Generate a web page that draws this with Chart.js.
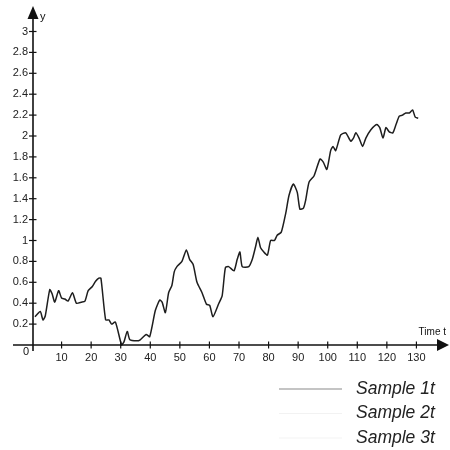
<!DOCTYPE html>
<html>
<head>
<meta charset="utf-8">
<script src="https://cdn.jsdelivr.net/npm/chart.js@4.4.1/dist/chart.umd.min.js"></script>
<style>
  html, body { margin: 0; padding: 0; background: #ffffff; }
  canvas { display: block; background: #ffffff; }
</style>
</head>
<body>
<canvas id="c" width="450" height="450"></canvas>
<script>
// ---- data ----
const times = [1, 2.8, 3.7, 4.5, 6, 6.8, 7.7, 9, 10, 11.1, 12.2, 13.7, 15, 16.7, 17.9, 19, 20.4, 21.5, 22.6, 23.3,
  24.9, 26, 26.9, 28.2, 30.3, 31.1, 32.2, 33.1, 35.4, 36.6, 38.6, 39.8, 41.7, 43.2, 44, 45.1, 46.2, 47.3, 48.1, 49,
  50.7, 52.2, 53.3, 54.5, 55.8, 57.5, 59, 60.1, 61.2, 63.2, 64.3, 65.4, 66.5, 68.3, 69.4, 70.3, 71.1, 73.3, 74.5, 75.6,
  76.4, 77.3, 78.4, 79.6, 80.7, 82, 82.9, 84.3, 85.8, 86.9, 88.4, 89.7, 90.6, 91.8, 92.5, 93.7, 95.4, 97.4, 98.5, 99.7,
  101, 101.8, 102.7, 104.4, 106.1, 107.8, 108.7, 109.5, 110.6, 111.8, 112.9, 114.6, 116.6, 117.6, 118.7, 119.7, 120.8, 122, 123.1, 124.2,
  125.3, 126.4, 127.6, 128.7, 129.6, 130.6];
const sample1 = [0.27, 0.32, 0.24, 0.28, 0.53, 0.49, 0.41, 0.52, 0.45, 0.44, 0.42, 0.50, 0.40, 0.41, 0.42, 0.52, 0.56, 0.61, 0.64, 0.64,
  0.24, 0.24, 0.20, 0.22, 0.00, 0.03, 0.13, 0.05, 0.04, 0.05, 0.10, 0.08, 0.33, 0.43, 0.41, 0.31, 0.50, 0.57, 0.70, 0.75,
  0.80, 0.91, 0.82, 0.77, 0.60, 0.50, 0.39, 0.38, 0.27, 0.40, 0.47, 0.74, 0.75, 0.71, 0.82, 0.89, 0.75, 0.75, 0.82, 0.94,
  1.03, 0.93, 0.89, 0.86, 1.00, 1.00, 1.05, 1.08, 1.26, 1.43, 1.54, 1.46, 1.30, 1.31, 1.38, 1.56, 1.62, 1.78, 1.75, 1.68,
  1.86, 1.90, 1.86, 2.01, 2.03, 1.95, 1.98, 2.03, 1.98, 1.90, 1.98, 2.06, 2.11, 2.08, 1.98, 2.08, 2.04, 2.03, 2.11, 2.19,
  2.20, 2.22, 2.22, 2.25, 2.18, 2.17];
const sample2 = [];
const sample3 = [];
const seriesLabels = ['Sample 1t', 'Sample 2t', 'Sample 3t'];
const xTicks = [10, 20, 30, 40, 50, 60, 70, 80, 90, 100, 110, 120, 130];
const yTicks = [0.2, 0.4, 0.6, 0.8, 1, 1.2, 1.4, 1.6, 1.8, 2, 2.2, 2.4, 2.6, 2.8, 3];
const xTitle = 'Time t';
const yTitle = 'y';

const toPts = (ts, vs) => vs.map((v, i) => ({ x: ts[i], y: v }));

const axesPlugin = {
  id: 'arrowAxes',
  afterDraw(chart) {
    const ctx = chart.ctx;
    const xs = chart.scales.x, ys = chart.scales.y;
    const ox = xs.getPixelForValue(0) + 1;
    const oy = ys.getPixelForValue(0);
    ctx.save();
    ctx.strokeStyle = '#111';
    ctx.fillStyle = '#111';
    ctx.lineWidth = 1.6;
    // x axis
    ctx.beginPath();
    ctx.moveTo(13, oy);
    ctx.lineTo(440, oy);
    ctx.stroke();
    ctx.beginPath();
    ctx.moveTo(449, oy);
    ctx.lineTo(437, oy - 6);
    ctx.lineTo(437, oy + 6);
    ctx.closePath();
    ctx.fill();
    // y axis
    ctx.beginPath();
    ctx.moveTo(ox, oy + 6);
    ctx.lineTo(ox, 16);
    ctx.stroke();
    ctx.beginPath();
    ctx.moveTo(ox, 6);
    ctx.lineTo(ox - 5.5, 19);
    ctx.lineTo(ox + 5.5, 19);
    ctx.closePath();
    ctx.fill();
    // tick marks
    ctx.lineWidth = 1.2;
    xTicks.forEach(v => {
      const px = xs.getPixelForValue(v);
      ctx.beginPath();
      ctx.moveTo(px, oy - 3.5);
      ctx.lineTo(px, oy + 3.5);
      ctx.stroke();
    });
    yTicks.forEach(v => {
      const py = ys.getPixelForValue(v);
      ctx.beginPath();
      ctx.moveTo(ox - 4, py);
      ctx.lineTo(ox + 3.5, py);
      ctx.stroke();
    });
    // labels
    ctx.font = '11px "Liberation Sans", Arial, sans-serif';
    ctx.textBaseline = 'middle';
    ctx.textAlign = 'left';
    ctx.fillText(yTitle, ox + 7, 17);
    ctx.font = '10px "Liberation Sans", Arial, sans-serif';
    ctx.textAlign = 'right';
    ctx.fillText(xTitle, 446, oy - 13);
    ctx.font = '11px "Liberation Sans", Arial, sans-serif';
    ctx.textAlign = 'center';
    ctx.fillText('0', 26, oy + 7);
    ctx.restore();
  }
};

const legendPlugin = {
  id: 'sideLegend',
  afterDraw(chart) {
    const ctx = chart.ctx;
    ctx.save();
    chart.data.datasets.forEach((ds, i) => {
      const y = 389 + i * 24.5;
      ctx.strokeStyle = ds.legendColor;
      ctx.lineWidth = 1.2;
      ctx.beginPath();
      ctx.moveTo(279, y);
      ctx.lineTo(342, y);
      ctx.stroke();
      ctx.fillStyle = '#222';
      ctx.font = 'italic 17.5px "Liberation Sans", Arial, sans-serif';
      ctx.textAlign = 'left';
      ctx.textBaseline = 'middle';
      ctx.fillText(ds.label, 356, y);
    });
    ctx.restore();
  }
};

new Chart(document.getElementById('c'), {
  type: 'line',
  data: {
    datasets: [
      { label: seriesLabels[0], data: toPts(times, sample1), borderColor: '#1e1e1e', borderWidth: 1.5,
        pointRadius: 0, tension: 0.2, fill: false, clip: false, legendColor: '#8a8a8a' },
      { label: seriesLabels[1], data: toPts([], sample2), borderColor: '#eeeeee', borderWidth: 1,
        pointRadius: 0, fill: false, legendColor: '#f2f2f2' },
      { label: seriesLabels[2], data: toPts([], sample3), borderColor: '#eeeeee', borderWidth: 1,
        pointRadius: 0, fill: false, legendColor: '#f4f4f4' }
    ]
  },
  options: {
    responsive: false,
    animation: false,
    layout: { padding: { top: 6, right: 4, left: 0, bottom: 0 } },
    plugins: { legend: { display: false }, tooltip: { enabled: false } },
    scales: {
      x: {
        type: 'linear', min: 0, max: 140,
        afterBuildTicks: s => { s.ticks = xTicks.map(v => ({ value: v })); },
        afterFit: s => { s.height = 105; },
        grid: { display: false, drawTicks: false },
        border: { display: false },
        ticks: { color: '#222', padding: 6, maxRotation: 0, autoSkip: false,
          font: { size: 11, family: '"Liberation Sans", Arial, sans-serif' } }
      },
      y: {
        type: 'linear', min: 0, max: 3.2,
        afterBuildTicks: s => { s.ticks = yTicks.map(v => ({ value: v })); },
        afterFit: s => { s.width = 32; },
        grid: { display: false, drawTicks: false },
        border: { display: false },
        ticks: { color: '#222', padding: 4, autoSkip: false,
          callback: v => String(Number(v.toFixed(1))),
          font: { size: 11, family: '"Liberation Sans", Arial, sans-serif' } }
      }
    }
  },
  plugins: [axesPlugin, legendPlugin]
});
</script>
</body>
</html>
